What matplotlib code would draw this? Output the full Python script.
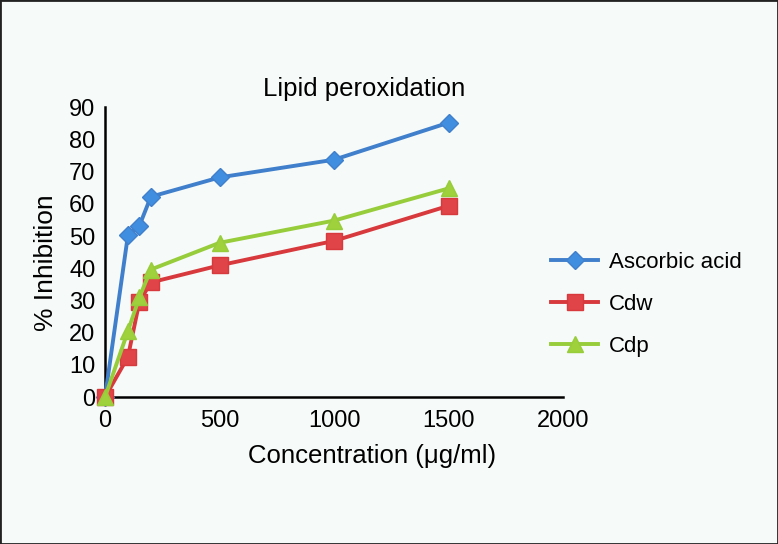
import matplotlib
matplotlib.use("Agg")
import matplotlib.pyplot as plt

plt.rcParams['font.family'] = ['Liberation Sans', 'DejaVu Sans']

conc = [0, 100, 150, 200, 500, 1000, 1500]
ascorbic = [0, 50.3, 53.2, 62.2, 68.2, 73.7, 85.2]
cdw = [0, 12.5, 29.6, 35.6, 40.9, 48.5, 59.4]
cdp = [0, 20.5, 31.0, 39.6, 47.9, 54.8, 64.8]
xticks = [0, 500, 1000, 1500, 2000]
yticks = [0, 10, 20, 30, 40, 50, 60, 70, 80, 90]

bg = '#f6faf8'
fig = plt.figure(figsize=(7.78, 5.44), dpi=100, facecolor=bg)
ax = fig.add_axes([0.135, 0.270, 0.589, 0.533], facecolor=bg)

ax.plot(conc, ascorbic, color='#3f7fcb', lw=2.8, marker='D', ms=9,
        mfc='#3f8ee0', mec='#3f7fcb', label='Ascorbic acid', clip_on=False, zorder=3)
ax.plot(conc, cdw, color='#d7393d', lw=2.8, marker='s', ms=12,
        mfc='#e04448', mec='#d7393d', label='Cdw', clip_on=False, zorder=3)
ax.plot(conc, cdp, color='#97cc3a', lw=2.8, marker='^', ms=11,
        mfc='#9ed13b', mec='#97cc3a', label='Cdp', clip_on=False, zorder=4)

ax.set_xlim(0, 2000)
ax.set_ylim(0, 90)
ax.set_xticks(xticks)
ax.set_yticks(yticks)
ax.tick_params(length=0, labelsize=17)
ax.tick_params(axis='x', pad=9)
ax.tick_params(axis='y', pad=7)
for s in ['top', 'right']:
    ax.spines[s].set_visible(False)
for s in ['left', 'bottom']:
    ax.spines[s].set_linewidth(1.8)

ax.set_title('Lipid peroxidation', fontsize=18.5, x=0.566, pad=8)
ax.set_xlabel('Concentration (μg/ml)', fontsize=18.5)
ax.xaxis.set_label_coords(0.583, -0.163)
ax.set_ylabel('% Inhibition', fontsize=19)
ax.yaxis.set_label_coords(-0.102, 0.462)

leg = fig.legend(loc='upper left', bbox_to_anchor=(0.683, 0.574), frameon=False,
                 fontsize=16, labelspacing=0.94, handlelength=2.1, handletextpad=0.5)

fig.patches.append(plt.Rectangle((0, 0), 1, 1, transform=fig.transFigure,
                                 fill=False, edgecolor='#222222', lw=2))
fig.savefig('out.png', dpi=100, facecolor=bg)
